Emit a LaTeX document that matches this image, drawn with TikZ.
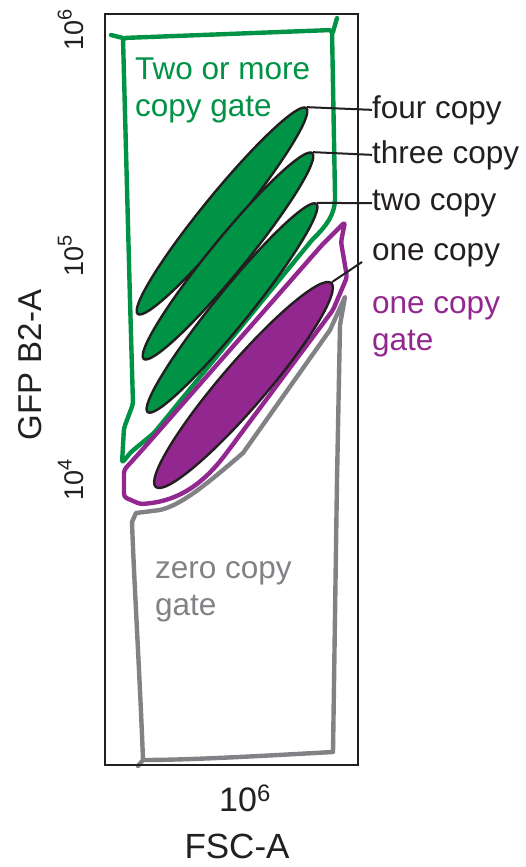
\documentclass[tikz,border=0pt]{standalone}
\usepackage{fontspec}
\setmainfont{Liberation Sans}
\usetikzlibrary{shapes.geometric}
\definecolor{gatgreen}{HTML}{009245}
\definecolor{gatpurple}{HTML}{92278F}
\definecolor{gatgrey}{HTML}{808285}
\definecolor{inkblack}{HTML}{231F20}
\newcommand{\tenpow}[1]{10\raisebox{0.42em}{\fontsize{20}{22}\selectfont #1}}
\begin{document}
\begin{tikzpicture}[x=1pt,y=-1pt,
    blob/.style={ellipse,draw=inkblack,line width=2.4pt,inner sep=0pt},
    gate/.style={line width=4.4pt,line join=round,line cap=round},
    lbl/.style={inner sep=0pt,anchor=base west,font=\fontsize{31.5}{36}\selectfont},
    ticklbl/.style={inner sep=0pt,anchor=base,rotate=90,text=inkblack,font=\fontsize{27}{30}\selectfont}]
  \useasboundingbox (0,0) rectangle (525,867);
  \draw[gate,gatgreen,rounded corners=3] (123,38) -- (228,34) -- (332,30) -- (335,195)
    .. controls (335,215) and (326,226) .. (312,240) -- (154,433) -- (131,452) -- (122,463)
    -- (124,428) -- (133,404) -- (130,300) -- cycle;
  \draw[gate,gatgreen] (111,35) -- (123,38);
  \draw[gate,gatgreen] (333,32) -- (337,18);
  \draw[gate,gatpurple,rounded corners=3] (345,222) -- (341,242) -- (347,277) -- (333,310)
    -- (225,455) .. controls (200,487) and (175,502) .. (140,504) -- (124,497) -- (124,470)
    -- (143,449) -- (322,245) -- cycle;
  \draw[gate,gatgrey] (345,297) -- (340,325) -- (337,480) -- (333,752)
    .. controls (260,756) and (190,760) .. (143,760)
    .. controls (140,680) and (134,580) .. (132,522) -- (136,513) -- (160,510)
    .. controls (180,505) and (200,490) .. (243,453) -- (330,330) -- cycle;
  \draw[gate,gatgrey] (143,760) -- (138,766);
  \draw[inkblack,line width=1.6pt] (105,14) rectangle (358,765);
  \node[blob,fill=gatgreen,minimum width=266,minimum height=35,rotate=50.7] (four) at (222,211) {};
  \node[blob,fill=gatgreen,minimum width=266,minimum height=35,rotate=50.7] (three) at (228,256) {};
  \node[blob,fill=gatgreen,minimum width=268,minimum height=35,rotate=51.0] (two) at (232,308) {};
  \node[blob,fill=gatpurple,minimum width=269,minimum height=45,rotate=49.3] (one) at (243.5,385) {};
  \node[lbl,text=gatgreen] (gtop) at (135,80) {Two or more};
  \node[lbl,text=gatgreen] (gbot) at (135,116) {copy gate};
  \node[lbl,text=inkblack] (lfour) at (372,118) {four copy};
  \node[lbl,text=inkblack] (lthree) at (372,163) {three copy};
  \node[lbl,text=inkblack] (ltwo) at (372,210) {two copy};
  \node[lbl,text=inkblack] (lone) at (372,260) {one copy};
  \node[lbl,text=gatpurple] (ptop) at (372,313) {one copy};
  \node[lbl,text=gatpurple] (pbot) at (372,350) {gate};
  \node[lbl,text=gatgrey] (ztop) at (155,578) {zero copy};
  \node[lbl,text=gatgrey] (zbot) at (155,615) {gate};
  \coordinate (lone end) at (362,262);
  \begin{scope}[inkblack,line width=2pt]
    \draw (four.east) -- (lfour.west);
    \draw (three.east) -- (lthree.west);
    \draw (two.east) -- (ltwo.west);
    \draw (one.east) -- (lone end);
  \end{scope}
  \node[ticklbl] (ysix) at (83,30) {\tenpow{6}};
  \node[ticklbl] (yfive) at (83,256) {\tenpow{5}};
  \node[ticklbl] (yfour) at (83,480) {\tenpow{4}};
  \node[inner sep=0pt,rotate=90,text=inkblack,font=\fontsize{33}{40}\selectfont] (ylab) at (30,365) {GFP B2-A};
  \node[inner sep=0pt,anchor=base,text=inkblack,font=\fontsize{34}{40}\selectfont] (xsix) at (245,811) {10\textsuperscript{6}};
  \node[inner sep=0pt,anchor=base,text=inkblack,font=\fontsize{35}{40}\selectfont] (xlab) at (237,858) {FSC-A};
\end{tikzpicture}
\end{document}
